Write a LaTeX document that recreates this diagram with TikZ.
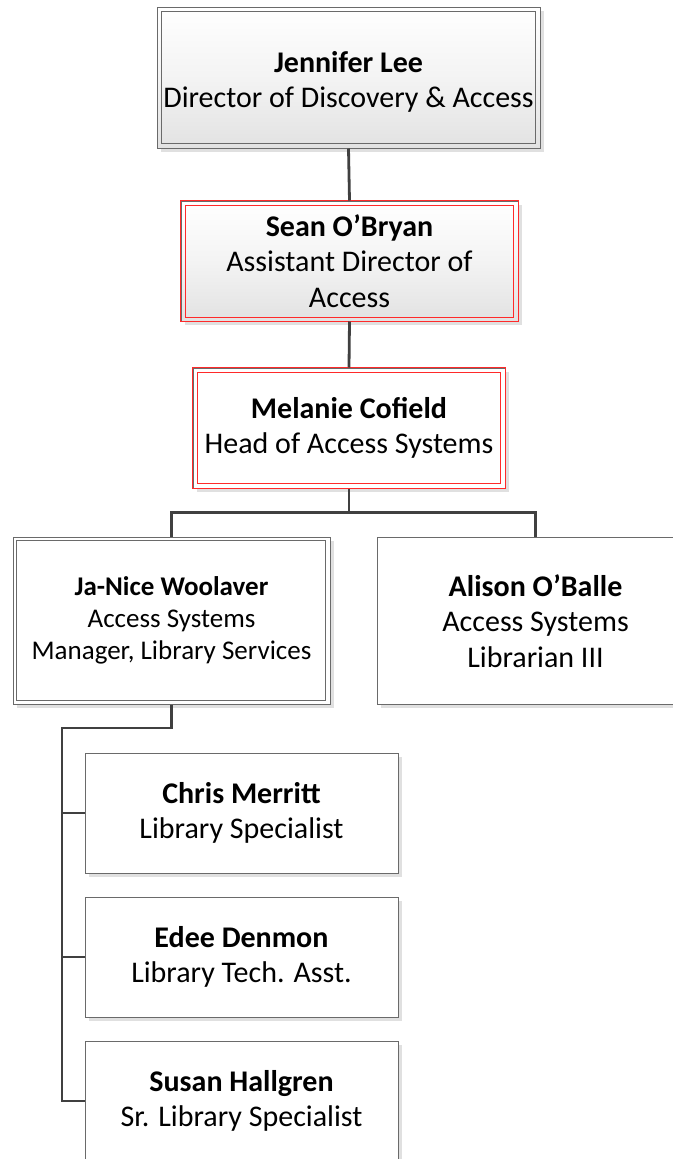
\documentclass[tikz,border=0pt]{standalone}
\usepackage{fontspec}
\setmainfont{Carlito}
\usetikzlibrary{shadows}
\definecolor{conn}{HTML}{404040}
\definecolor{bord}{HTML}{6A6A6A}
\definecolor{shad}{HTML}{E0E0E0}
\definecolor{redb}{HTML}{FF2A2A}
\definecolor{gradb}{HTML}{E2E2E2}
\tikzset{
  box/.style={rectangle, draw=bord, line width=1pt, fill=white, align=center, inner sep=0pt,
    font=\fontsize{30}{35.5}\selectfont,
    drop shadow={shadow xshift=4pt, shadow yshift=-4pt, fill=shad, opacity=1}},
  gradbox/.style={box, top color=white, bottom color=gradb, middle color=white!60!gradb},
  txt/.style={align=center, inner sep=0pt, font=\fontsize{30}{35.5}\selectfont},
  inner/.style={draw=bord, line width=0.9pt},
  redline/.style={draw=redb, line width=1pt},
  conn/.style={draw=conn, line width=2.8pt},
}
\begin{document}
\begin{tikzpicture}[x=1pt,y=-1pt]
\path[use as bounding box] (0,0) rectangle (672,1159);

\coordinate (tk) at (62,728);

\node[gradbox, minimum width=383pt, minimum height=141pt] (J) at (348.5,77.5) {};
\node[txt] (Jt) at (348.5,82)
  {\textbf{Jennifer Lee}\\Director of Discovery \& Access};
\node[gradbox, minimum width=337pt, minimum height=120pt] (S) at (349.5,261)
  {\textbf{Sean O’Bryan}\\Assistant Director of\\Access};
\node[box, minimum width=312pt, minimum height=120pt] (M) at (349,428)
  {\textbf{Melanie Cofield}\\Head of Access Systems};
\node[box, minimum width=317pt, minimum height=167pt, font=\fontsize{27}{32}\selectfont] (JN) at (171.5,620.5)
  {\textbf{Ja-Nice Woolaver}\\Access Systems\\Manager, Library Services};
\node[box, minimum width=340pt, minimum height=167pt] (A) at (547,620.5) {};
\node[txt] (At) at (535.5,621)
  {\textbf{Alison O’Balle}\\Access Systems\\Librarian III};
\node[box, minimum width=313pt, minimum height=120pt] (C) at (241.5,813)
  {\textbf{Chris Merritt}\\Library Specialist};
\node[box, minimum width=313pt, minimum height=120pt] (E) at (241.5,957)
  {\textbf{Edee Denmon}\\Library Tech. Asst.};
\node[box, minimum width=313pt, minimum height=120pt] (Su) at (241.5,1101)
  {\textbf{Susan Hallgren}\\Sr. Library Specialist};

% borders of double-framed boxes
\draw[inner] ([xshift=5pt,yshift=-5pt]J.north west) rectangle ([xshift=-5pt,yshift=5pt]J.south east);
\draw[redline] (S.north west) rectangle (S.south east);
\draw[redline] ([xshift=5pt,yshift=-4.5pt]S.north west) rectangle ([xshift=-5pt,yshift=4.5pt]S.south east);
\draw[redline] (M.north west) rectangle (M.south east);
\draw[redline] ([xshift=5pt,yshift=-5pt]M.north west) rectangle ([xshift=-5pt,yshift=5pt]M.south east);
\draw[inner] ([xshift=4pt,yshift=-4pt]JN.north west) rectangle ([xshift=-5pt,yshift=4pt]JN.south east);

% connectors
\draw[conn] (J.south) -- (S.north);
\draw[conn] (S.south) -- (M.north);
\draw[conn] (M.south) -- ++(0,24) -| (JN.north);
\draw[conn] (M.south) ++(0,24) -| (At.north |- A.north);
\draw[conn] (JN.south) |- (tk) -- (tk |- Su.west) -- (Su.west);
\draw[conn] (tk |- C.west) -- (C.west);
\draw[conn] (tk |- E.west) -- (E.west);
\end{tikzpicture}
\end{document}
